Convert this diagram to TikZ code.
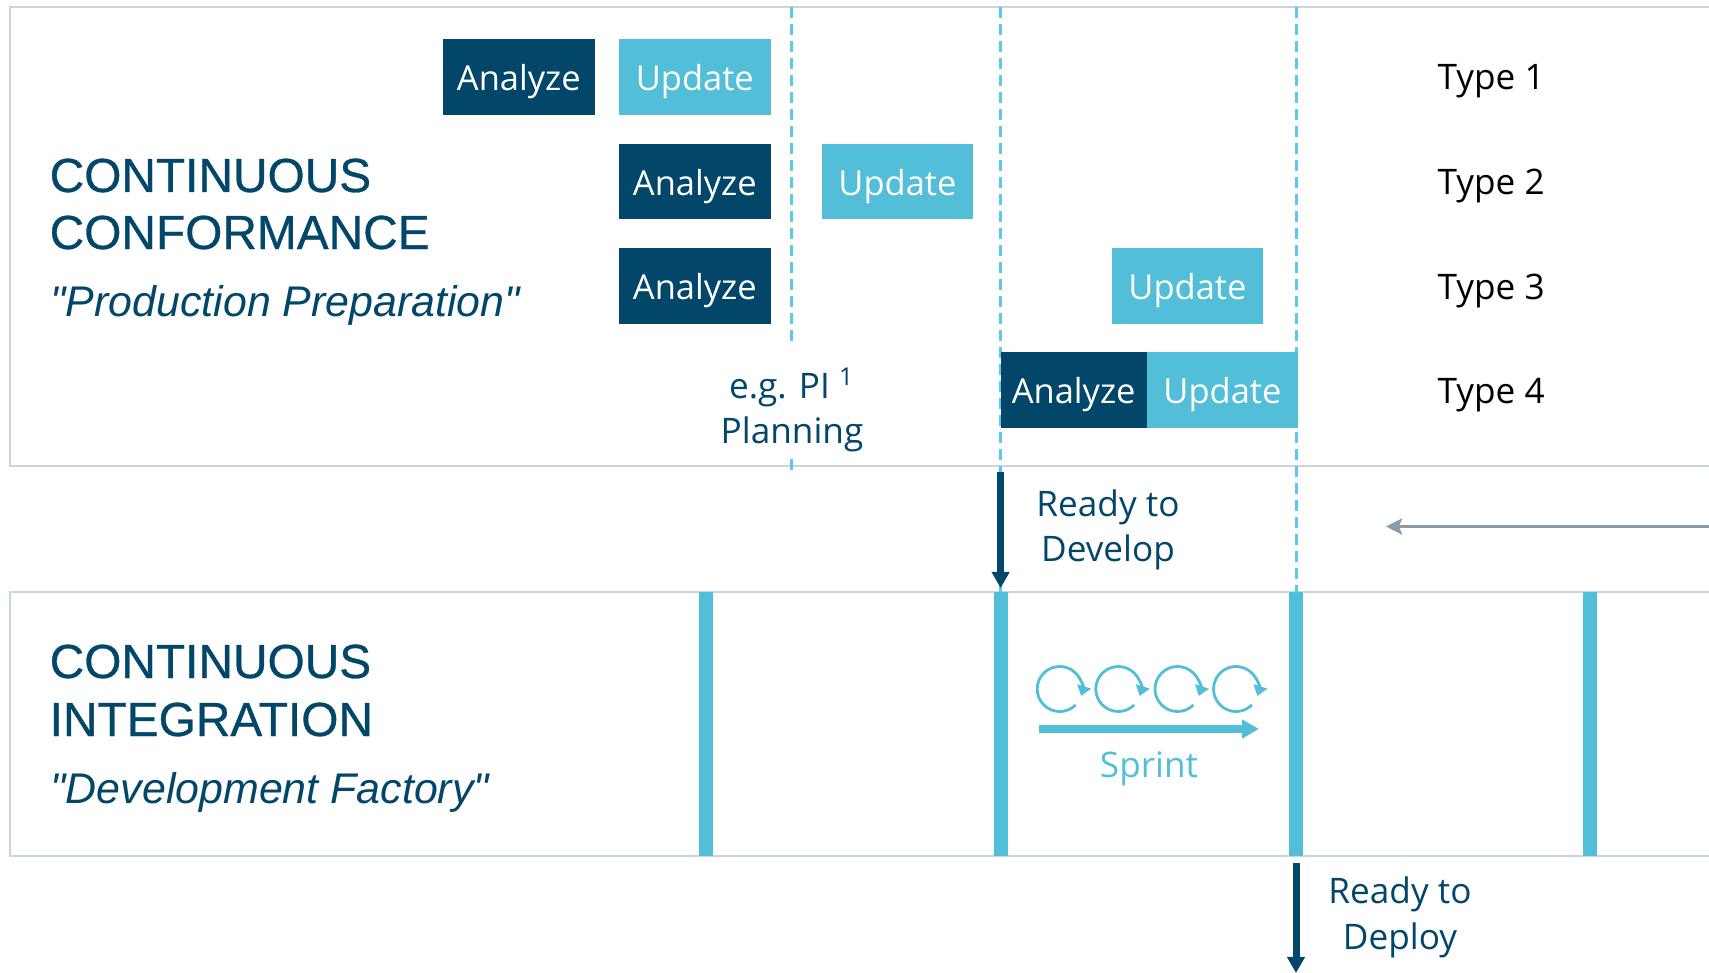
\documentclass[tikz,border=0pt]{standalone}
\usepackage{fontspec}
\setmainfont{Open Sans}
\newfontfamily\arialfont[FakeBold=0.6]{Liberation Sans}
\newfontfamily\arialitfont{Liberation Sans}
\usetikzlibrary{arrows.meta}
\definecolor{ccdark}{RGB}{2,70,106}
\definecolor{ccbox}{RGB}{82,190,216}
\definecolor{ccdash}{RGB}{90,200,240}
\definecolor{ccframe}{RGB}{200,212,224}
\definecolor{ccgray}{RGB}{138,155,172}
\begin{document}
\begin{tikzpicture}[x=0.01cm, y=-0.01cm,
anbox/.style={fill=ccdark, text=white, minimum width=1.515cm, minimum height=0.755cm, inner sep=0pt, outer sep=0pt, text height=0.274cm, text depth=0cm, font=\fontsize{9.8}{12}\selectfont},
upbox/.style={anbox, fill=ccbox},
typelbl/.style={anchor=base west, inner sep=0pt, font=\fontsize{10}{12}\selectfont},
bigtitle/.style={anchor=base west, inner sep=0pt, text=ccdark, font=\arialfont\fontsize{13.6}{17}\selectfont},
subtitle/.style={anchor=base west, inner sep=0pt, text=ccdark, font=\arialitfont\itshape\fontsize{12.2}{14}\selectfont},
notelbl/.style={align=center, inner sep=0pt, text=ccdark, font=\fontsize{10}{13}\selectfont},
gate/.style={ccdash, line width=0.03cm, dash pattern=on 0.11cm off 0.06cm},
panel/.style={draw=ccframe, line width=0.02cm},
sprintbar/.style={ccbox, line width=0.14cm},
sprintloop/.style={ccbox, line width=0.028cm, -{Triangle[width=0.14cm,length=0.1cm]}},
handover/.style={ccdark, line width=0.07cm, -{Triangle[width=0.17cm,length=0.16cm]}}]
\clip (0,0) rectangle (1709,973);
\fill[white] (0,0) rectangle (1709,973);
\draw[panel] (10,7) rectangle (1730,466);
\draw[panel] (10,592) rectangle (1730,856);
\coordinate (g1t) at (791,7);
\coordinate (g1m) at (791,345);
\coordinate (g1c) at (791,459);
\coordinate (g1b) at (791,472);
\coordinate (g2t) at (1000.6,7);
\coordinate (g2b) at (1000.6,592);
\coordinate (g3t) at (1296,7);
\coordinate (g3b) at (1296,592);
\draw[gate] (g1t) -- (g1m);
\draw[gate] (g1c) -- (g1b);
\draw[gate] (g2t) -- (g2b);
\draw[gate] (g3t) -- (g3b);
\node[anbox] (an1) at (518.8,76.8) {Analyze};
\node[upbox] (up1) at (694.8,76.8) {Update};
\node[anbox] (an2) at (694.8,181.5) {Analyze};
\node[upbox] (up2) at (897.4,181.5) {Update};
\node[anbox] (an3) at (694.8,286) {Analyze};
\node[upbox] (up3) at (1187.4,286) {Update};
\node[anbox, minimum width=1.46cm] (an4) at (1073.6,389.8) {Analyze};
\node[upbox, anchor=west] (up4) at (an4.east) {Update};
\node[typelbl] (ty1) at (1437,90) {Type 1};
\node[typelbl] (ty2) at (1437,195) {Type 2};
\node[typelbl] (ty3) at (1437,299) {Type 3};
\node[typelbl] (ty4) at (1437,403) {Type 4};
\node[bigtitle] (cc1) at (49,192) {CONTINUOUS};
\node[bigtitle] (cc2) at (49,249) {CONFORMANCE};
\node[subtitle] (ccsub) at (50,317) {"Production Preparation"};
\node[bigtitle] (ci1) at (49,678) {CONTINUOUS};
\node[bigtitle] (ci2) at (49,736) {INTEGRATION};
\node[subtitle] (cisub) at (50,803) {"Development Factory"};
\node[notelbl] (pi) at (792,410) {e.g. PI \textsuperscript{1}\\Planning};
\node[notelbl] (rdev) at (1108,530) {Ready to\\Develop};
\node[notelbl] (rdep) at (1400,917) {Ready to\\Deploy};
\coordinate (devs) at (1000.6,472);
\coordinate (deve) at (1000.6,588);
\draw[handover] (devs) -- (deve);
\coordinate (deps) at (1296,863);
\coordinate (depe) at (1296,973);
\draw[handover] (deps) -- (depe);
\coordinate (fbs) at (1709,526.5);
\coordinate (fbe) at (1386,526.5);
\draw[ccgray, line width=0.03cm, -{Stealth[width=0.16cm,length=0.16cm,inset=0.03cm]}] (fbs) -- (fbe);
\coordinate (bt1) at (706,592);
\coordinate (bb1) at (706,856);
\coordinate (bt2) at (1000.6,592);
\coordinate (bb2) at (1000.6,856);
\coordinate (bt3) at (1296,592);
\coordinate (bb3) at (1296,856);
\coordinate (bt4) at (1590,592);
\coordinate (bb4) at (1590,856);
\draw[sprintbar] (bt1) -- (bb1);
\draw[sprintbar] (bt2) -- (bb2);
\draw[sprintbar] (bt3) -- (bb3);
\draw[sprintbar] (bt4) -- (bb4);
\coordinate (sc1) at (1059.7,689);
\coordinate (sc2) at (1118.3,689);
\coordinate (sc3) at (1177.5,689);
\coordinate (sc4) at (1236,689);
\draw[sprintloop] (sc1) ++(45:22.5) arc[start angle=45, end angle=378, radius=22.5];
\draw[sprintloop] (sc2) ++(45:22.5) arc[start angle=45, end angle=378, radius=22.5];
\draw[sprintloop] (sc3) ++(45:22.5) arc[start angle=45, end angle=378, radius=22.5];
\draw[sprintloop] (sc4) ++(45:22.5) arc[start angle=45, end angle=378, radius=22.5];
\coordinate (sps) at (1039,729);
\coordinate (spe) at (1259,729);
\draw[ccbox, line width=0.08cm, -{Triangle[width=0.18cm,length=0.17cm]}] (sps) -- (spe);
\node[anchor=base, inner sep=0pt, text=ccbox, font=\fontsize{10}{12}\selectfont] (spr) at (1149,777) {Sprint};
\end{tikzpicture}
\end{document}
